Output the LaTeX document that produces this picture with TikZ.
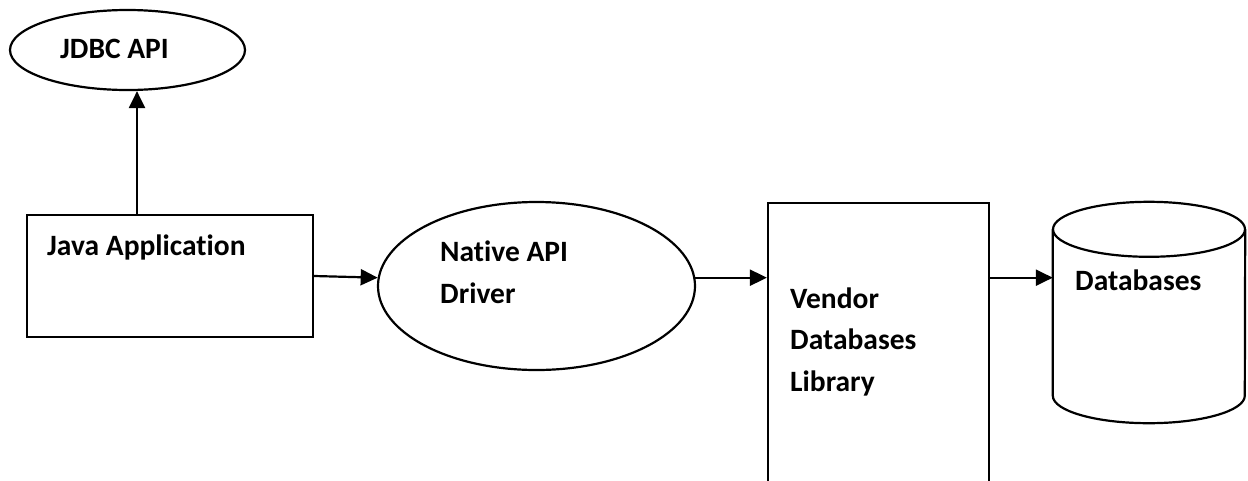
\documentclass[tikz,border=0pt]{standalone}
\usepackage{fontspec}
\setmainfont{Carlito}[Ligatures={NoCommon}]
\usetikzlibrary{shapes.geometric,arrows.meta}

\tikzset{
  box/.style={draw, line width=2.2pt, rectangle, inner sep=0pt},
  oval/.style={draw, line width=2.2pt, ellipse, inner sep=0pt},
  lbl/.style={font=\fontsize{29.5}{41.5}\selectfont\bfseries, inner sep=0pt, align=left, anchor=base west},
  arr/.style={line width=2.2pt, -{Triangle[length=17pt,width=16pt]}},
}

\begin{document}
\begin{tikzpicture}[x=1pt,y=-1pt]
  \clip (0,0) rectangle (1248,480);
  \fill[white] (0,0) rectangle (1248,480);

  % shapes
  \node[oval, minimum width=235pt, minimum height=80pt] (jdbc) at (127.5,50) {};
  \node[box, minimum width=286pt, minimum height=122pt] (java) at (170,276) {};
  \node[oval, minimum width=317pt, minimum height=168pt] (native) at (536.5,286) {};
  \node[box, minimum width=221pt, minimum height=320pt, anchor=north] (vendor) at (878.5,202) {};
  \node[minimum width=192pt, minimum height=221pt, inner sep=0pt] (db) at (1149,312.5) {};

  % database cylinder
  \draw[line width=2.2pt]
    (db.north) ++(0,27.5) ellipse [x radius=96pt, y radius=27.5pt];
  \draw[line width=2.2pt]
    ([yshift=-27.5pt]db.north west) -- ([yshift=27.5pt]db.south west)
    arc [start angle=180, end angle=360, x radius=96pt, y radius=27.5pt]
    -- ([yshift=-27.5pt]db.north east);

  % labels (multi-line labels are placed by the baseline of their last line)
  \node[lbl] (jdbcText)   at (60,58)    {JDBC API};
  \node[lbl] (javaText)   at (47,255)   {Java Application};
  \node[lbl] (nativeText) at (440,303)  {Native API\\Driver};
  \node[lbl] (vendorText) at (790,391)  {Vendor\\Databases\\Library};
  \node[lbl] (dbText)     at (1075,290) {Databases};

  % connectors
  \coordinate (up) at ([xshift=-33pt]java.north);
  \draw[arr] (up) -- (up |- jdbc.south);
  \draw[arr] (java.east) -- (native.177);
  \coordinate (nv) at (native.3);
  \draw[arr] (nv) -- (nv -| vendor.west);
  \coordinate (vd) at (nv -| vendor.east);
  \draw[arr] (vd) -- (vd -| db.west);
\end{tikzpicture}
\end{document}
